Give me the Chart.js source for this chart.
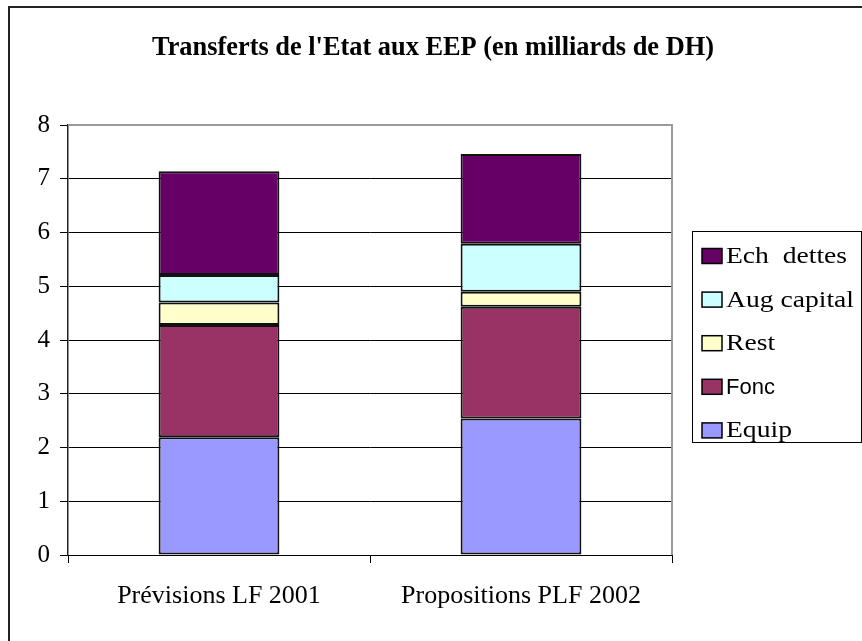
<!DOCTYPE html>
<html>
<head>
<meta charset="utf-8">
<script src="https://cdn.jsdelivr.net/npm/chart.js@4/dist/chart.umd.min.js"></script>
<style>
  html, body { margin: 0; padding: 0; background: #fff; }
  #wrap { width: 862px; height: 641px; position: relative; }
</style>
</head>
<body>
<div id="wrap"><canvas id="c" width="862" height="641"></canvas></div>
<script>
const chartTitle = "Transferts de l'Etat aux EEP (en milliards de DH)";
const categories = ["Prévisions LF 2001", "Propositions PLF 2002"];
const seriesNames = ["Equip", "Fonc", "Rest", "Aug capital", "Ech  dettes"];
const equip = [2.19, 2.54];
const fonc = [2.09, 2.08];
const rest = [0.42, 0.28];
const augCapital = [0.51, 0.89];
const echDettes = [1.93, 1.67];
const seriesColors = ["#9999FF", "#993366", "#FFFFCC", "#CCFFFF", "#660066"];
const yTicks = [0, 1, 2, 3, 4, 5, 6, 7, 8];

const seriesValues = [equip, fonc, rest, augCapital, echDettes];
const datasets = seriesNames.map((n, i) => ({
  label: n,
  data: seriesValues[i],
  backgroundColor: seriesColors[i],
  borderColor: "#111",
  borderWidth: 2,
  borderSkipped: false,
  barPercentage: 0.4,
  categoryPercentage: 1.0
}));

const serif = "'Liberation Serif', 'Times New Roman', serif";
const sans = "'Liberation Sans', Arial, sans-serif";

const decor = {
  id: 'decor',
  beforeDraw(chart) {
    const ctx = chart.ctx;
    ctx.save();
    ctx.fillStyle = '#fff';
    ctx.fillRect(0, 0, chart.width, chart.height);
    ctx.strokeStyle = '#222';
    ctx.lineWidth = 2;
    ctx.strokeRect(9, 7, 1000, 1000);
    ctx.restore();
  },
  afterDraw(chart) {
    const ctx = chart.ctx;
    const ca = chart.chartArea;
    ctx.save();
    ctx.strokeStyle = '#9a9a9a';
    ctx.lineWidth = 2;
    ctx.beginPath();
    ctx.moveTo(ca.left, ca.top);
    ctx.lineTo(ca.right, ca.top);
    ctx.lineTo(ca.right, ca.bottom);
    ctx.stroke();
    // title
    ctx.fillStyle = '#000';
    ctx.font = "bold 27px " + serif;
    ctx.textBaseline = 'middle';
    ctx.textAlign = 'left';
    const tw = ctx.measureText(chartTitle).width;
    const targetW = 562;
    ctx.save();
    ctx.translate(152, 48);
    ctx.scale(targetW / tw, 1);
    ctx.fillText(chartTitle, 0, 0);
    ctx.restore();
    // legend
    const lx = 692, ly = 231, lw = 169, lh = 211;
    ctx.strokeStyle = '#000';
    ctx.lineWidth = 1;
    ctx.strokeRect(lx + 0.5, ly + 0.5, lw, lh);
    const ds = chart.data.datasets;
    for (let k = 0; k < ds.length; k++) {
      const i = ds.length - 1 - k;
      const cy = 256 + k * 43.6;
      ctx.fillStyle = ds[i].backgroundColor;
      ctx.fillRect(702, cy - 7.5, 20, 15);
      ctx.strokeStyle = '#000';
      ctx.lineWidth = 1.5;
      ctx.strokeRect(702, cy - 7.5, 20, 15);
      ctx.fillStyle = '#000';
      const isSans = ds[i].label === 'Fonc';
      ctx.font = isSans ? ("22px " + sans) : ("23px " + serif);
      ctx.textBaseline = 'middle';
      ctx.save();
      ctx.translate(726, cy + 1);
      const w = ctx.measureText(ds[i].label).width;
      ctx.scale(isSans ? 1.0 : 1.2, 1);
      ctx.fillText(ds[i].label, 0, 0);
      ctx.restore();
    }
    ctx.restore();
  }
};

new Chart(document.getElementById('c'), {
  type: 'bar',
  data: { labels: categories, datasets },
  options: {
    responsive: false,
    animation: false,
    devicePixelRatio: 1,
    layout: { padding: { left: 0, right: 190, top: 125, bottom: 26 } },
    plugins: { legend: { display: false }, title: { display: false }, tooltip: { enabled: false } },
    scales: {
      x: {
        stacked: true,
        offset: true,
        grid: {
          offset: true,
          drawOnChartArea: false,
          tickLength: 8,
          tickColor: '#000',
          color: '#000'
        },
        border: { color: '#000', width: 1 },
        ticks: {
          color: '#000',
          font: { family: serif, size: 26 },
          padding: 18
        },
        afterFit(s) { s.height = 60; }
      },
      y: {
        stacked: true,
        min: 0, max: 8,
        afterBuildTicks(s) { s.ticks = yTicks.map(v => ({ value: v })); },
        grid: {
          color: ctx => (ctx.tick && ctx.tick.value === 8) ? 'rgba(0,0,0,0)' : '#000',
          tickColor: '#000',
          tickLength: 8,
          lineWidth: 1
        },
        border: { color: '#222', width: 1.5 },
        ticks: {
          color: '#000',
          font: { family: serif, size: 25 },
          padding: 10
        },
        afterFit(s) { s.width = 68; }
      }
    }
  },
  plugins: [decor]
});
</script>
</body>
</html>
